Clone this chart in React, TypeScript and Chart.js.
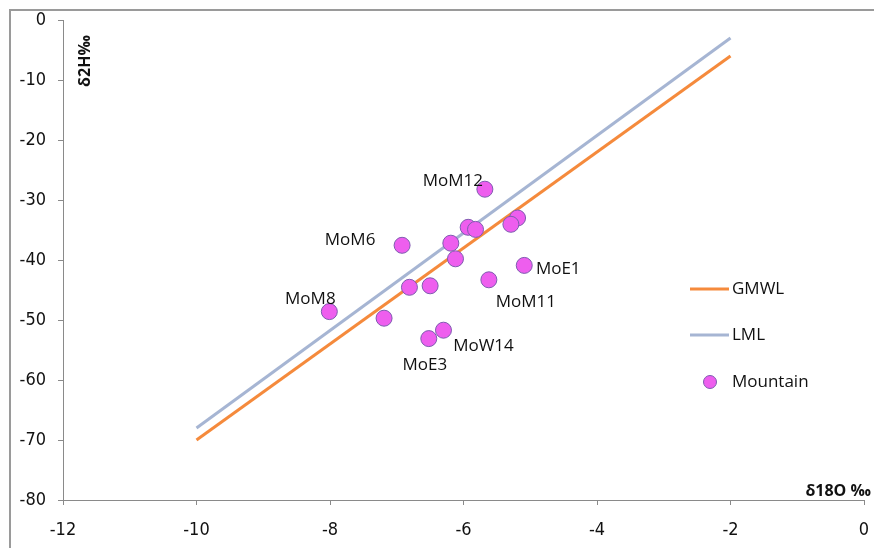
import React, { useEffect, useRef } from "react";
import { Chart, registerables } from "chart.js";

Chart.register(...registerables);

// ---- data ----
const sampleX = [-5.68, -5.19, -5.29, -5.93, -5.82, -6.92, -6.19, -6.12, -5.09, -5.62, -6.81, -6.5, -8.01, -7.19, -6.3, -6.52];
const sampleY = [-28.2, -33.0, -34.05, -34.55, -34.9, -37.55, -37.2, -39.8, -40.9, -43.3, -44.55, -44.3, -48.6, -49.7, -51.7, -53.1];
const sampleNames = ["MoM12", "", "", "", "", "MoM6", "", "", "MoE1", "MoM11", "", "", "MoM8", "", "MoW14", "MoE3"];
const lineX = [-10, -2];
const gmwlY = [-70, -6];
const lmlY = [-68, -3];
const seriesNames = ["GMWL", "LML", "Mountain"];
const xTitle = "δ18O ‰";
const yTitle = "δ2H‰";

// ---- layout of point labels (pixel offsets of label centre from point centre) ----
const labelOffsets: Record<string, [number, number]> = {
  MoM12: [-32, -8],
  MoM6: [-52, -5],
  MoE1: [34, 4],
  MoM11: [37, 22],
  MoM8: [-19, -12],
  MoW14: [40, 16],
  MoE3: [-4, 27],
};

const LABEL_FONT = '17px "Open Sans", "Noto Sans", sans-serif';
const TICK_FONT_FAMILY = '"Liberation Sans Narrow", "DejaVu Sans Condensed", "Liberation Sans", sans-serif';
const GMWL_COLOR = "#F58A3C";
const LML_COLOR = "#A6B5D3";
const PT_FILL = "#EE5EEE";
const PT_BORDER = "#7E5CB0";

const framePlugin = {
  id: "frame",
  beforeDraw(chart: any) {
    const ctx = chart.ctx;
    ctx.save();
    ctx.fillStyle = "#fff";
    ctx.fillRect(0, 0, chart.width, chart.height);
    ctx.strokeStyle = "#9a9a9a";
    ctx.lineWidth = 2;
    ctx.beginPath();
    ctx.moveTo(10, chart.height);
    ctx.lineTo(10, 10);
    ctx.lineTo(chart.width, 10);
    ctx.stroke();
    ctx.restore();
  },
};

const labelPlugin = {
  id: "pointLabels",
  afterDatasetsDraw(chart: any) {
    const ctx = chart.ctx;
    const meta = chart.getDatasetMeta(2);
    ctx.save();
    ctx.font = LABEL_FONT;
    ctx.fillStyle = "#111";
    ctx.textAlign = "center";
    ctx.textBaseline = "middle";
    meta.data.forEach((el: any, i: number) => {
      const name = sampleNames[i];
      if (!name) return;
      const off = labelOffsets[name] || [0, -14];
      ctx.fillText(name, el.x + off[0], el.y + off[1]);
    });
    ctx.restore();
  },
};

const legendPlugin = {
  id: "customLegend",
  afterDraw(chart: any) {
    const ctx = chart.ctx;
    const ds = chart.data.datasets;
    ctx.save();
    ctx.font = LABEL_FONT;
    ctx.fillStyle = "#111";
    ctx.textAlign = "left";
    ctx.textBaseline = "middle";
    const rows = [289, 335, 382];
    for (let i = 0; i < 3; i++) {
      const d = ds[i];
      const y = rows[i];
      if (i < 2) {
        ctx.strokeStyle = d.borderColor;
        ctx.lineWidth = 3;
        ctx.beginPath();
        ctx.moveTo(690, y);
        ctx.lineTo(729, y);
        ctx.stroke();
      } else {
        ctx.fillStyle = d.backgroundColor;
        ctx.strokeStyle = d.borderColor;
        ctx.lineWidth = 1;
        ctx.beginPath();
        ctx.arc(710, y, 6.5, 0, Math.PI * 2);
        ctx.fill();
        ctx.stroke();
        ctx.fillStyle = "#111";
      }
      ctx.fillText(d.label, 732, y);
    }
    ctx.restore();
  },
};

const titlePlugin = {
  id: "axisTitles",
  afterDraw(chart: any) {
    const ctx = chart.ctx;
    ctx.save();
    ctx.fillStyle = "#111";
    ctx.font = 'bold 16px "Open Sans", "Noto Sans", sans-serif';
    ctx.textBaseline = "middle";
    ctx.textAlign = "right";
    ctx.fillText(xTitle, 871, 491);
    ctx.translate(85, 61);
    ctx.rotate(-Math.PI / 2);
    ctx.textAlign = "center";
    ctx.fillText(yTitle, 0, 0);
    ctx.restore();
  },
};

export default function App() {
  const ref = useRef<HTMLCanvasElement>(null);
  useEffect(() => {
    if (!ref.current) return;
    const chart = new Chart(ref.current, {
      type: "scatter",
      data: {
        datasets: [
          {
            label: seriesNames[0],
            data: lineX.map((x, i) => ({ x, y: gmwlY[i] })),
            showLine: true,
            borderColor: GMWL_COLOR,
            backgroundColor: GMWL_COLOR,
            borderWidth: 3,
            pointRadius: 0,
            order: 2,
          },
          {
            label: seriesNames[1],
            data: lineX.map((x, i) => ({ x, y: lmlY[i] })),
            showLine: true,
            borderColor: LML_COLOR,
            backgroundColor: LML_COLOR,
            borderWidth: 3,
            pointRadius: 0,
            order: 3,
          },
          {
            label: seriesNames[2],
            data: sampleX.map((x, i) => ({ x, y: sampleY[i] })),
            backgroundColor: PT_FILL,
            borderColor: PT_BORDER,
            borderWidth: 1,
            pointRadius: 8,
            order: 1,
          },
        ],
      } as any,
      options: {
        animation: false,
        responsive: false,
        devicePixelRatio: 1,
        layout: { padding: { left: 10, right: 10, top: 20, bottom: 0 } },
        plugins: { legend: { display: false }, tooltip: { enabled: false } },
        scales: {
          x: {
            type: "linear",
            min: -12,
            max: 0,
            ticks: {
              stepSize: 2,
              color: "#111",
              padding: 15,
              font: { family: TICK_FONT_FAMILY, size: 18 },
            },
            grid: { drawOnChartArea: false, tickLength: 5, color: "#8a8a8a" },
            border: { color: "#8a8a8a", width: 1 },
            afterFit(scale: any) {
              scale.height = 48;
              scale.paddingRight = 0;
              scale.paddingLeft = 0;
            },
          },
          y: {
            type: "linear",
            min: -80,
            max: 0,
            ticks: {
              stepSize: 10,
              color: "#111",
              padding: 12,
              font: { family: TICK_FONT_FAMILY, size: 18 },
            },
            grid: { drawOnChartArea: false, tickLength: 5, color: "#8a8a8a" },
            border: { color: "#8a8a8a", width: 1 },
            afterFit(scale: any) {
              scale.width = 53;
              scale.paddingTop = 0;
              scale.paddingBottom = 0;
            },
          },
        },
      } as any,
      plugins: [framePlugin, labelPlugin, legendPlugin, titlePlugin],
    });
    return () => chart.destroy();
  }, []);
  return (
    <div style={{ position: "absolute", left: 0, top: 0, width: 874, height: 548 }}>
      <canvas ref={ref} width={874} height={548} style={{ display: "block" }} />
    </div>
  );
}
